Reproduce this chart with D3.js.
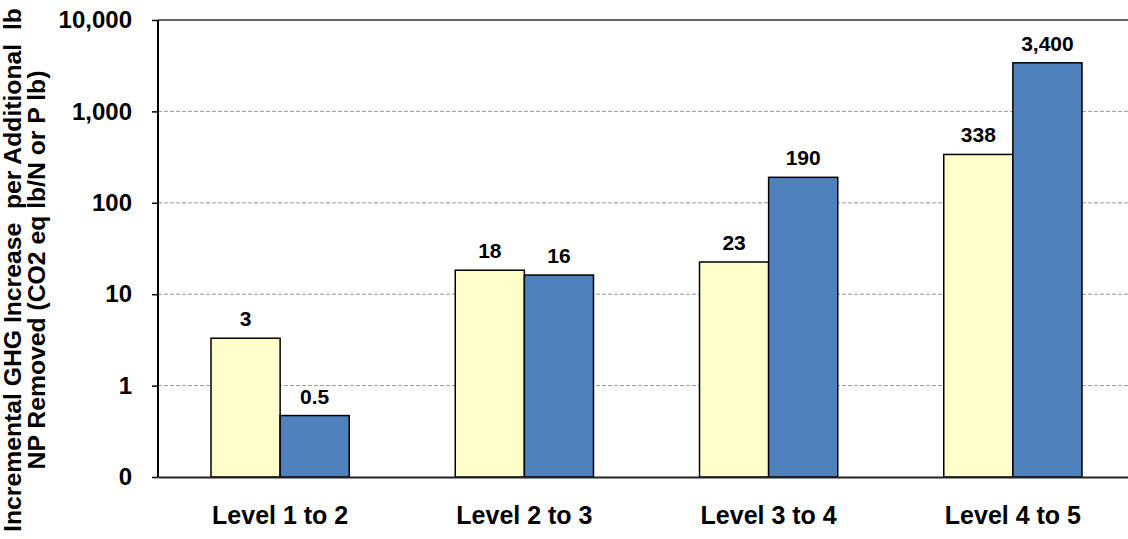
<!DOCTYPE html>
<html lang="en">
<head>
  <meta charset="UTF-8">
  <title>Incremental GHG Increase per Additional lb NP Removed</title>
  <script src="https://d3js.org/d3.v7.min.js"></script>
<style>
  body, html {
    margin: 0;
    padding: 0;
    background: #ffffff;
    overflow: hidden;
  }
  svg {
    display: block;
    font-family: Arial, 'Liberation Sans', Helvetica, sans-serif;
    font-weight: bold;
  }
  .bar {
    stroke: #000;
    stroke-width: 1.5;
  }
  .grid line {
    stroke: #999;
    stroke-dasharray: 4,2;
  }
</style>
</head>
<body>

<svg width="1128" height="539"></svg>

<script>
  // chart data
  const categories = ["Level 1 to 2", "Level 2 to 3", "Level 3 to 4", "Level 4 to 5"];
  const seriesNames = ["Nitrogen", "Phosphorus"];
  const nValues = [3.3, 18.3, 22.5, 338];
  const pValues = [0.47, 16.2, 190, 3400];
  const nLabels = ["3", "18", "23", "338"];
  const pLabels = ["0.5", "16", "190", "3,400"];
  const yTicks = [0.1, 1, 10, 100, 1000, 10000];
  const yTickLabels = ["0", "1", "10", "100", "1,000", "10,000"];
  const colors = ["#FFFFCC", "#4F81BD"];

  const rows = categories.map((c, i) => ({
    cat: c,
    bars: [
      {key: seriesNames[0], value: nValues[i], label: nLabels[i]},
      {key: seriesNames[1], value: pValues[i], label: pLabels[i]}
    ]
  }));

  const margin = {top: 20, left: 158},
        plotRight = 1135,
        plotBottom = 477;

  const svg = d3.select("svg");

  const x0 = d3.scaleBand()
               .domain(categories)
               .range([margin.left, plotRight])
               .paddingInner(0.434)
               .paddingOuter(0.217);

  const x1 = d3.scaleBand()
               .domain(seriesNames)
               .range([0, x0.bandwidth()]);

  const y = d3.scaleLog()
              .domain([0.1, 10000])
              .range([plotBottom, margin.top]);

  // gridlines
  svg.append("g")
     .attr("class", "grid")
     .selectAll("line")
     .data(yTicks.slice(1, -1))
     .enter().append("line")
       .attr("x1", margin.left)
       .attr("x2", plotRight)
       .attr("y1", d => y(d))
       .attr("y2", d => y(d));

  // top border line
  svg.append("line")
     .attr("x1", margin.left).attr("x2", plotRight)
     .attr("y1", y(10000)).attr("y2", y(10000))
     .attr("stroke", "#333").attr("stroke-width", 1.5);

  // bars
  const groups = svg.selectAll("g.group")
     .data(rows)
     .enter().append("g")
       .attr("class", "group")
       .attr("transform", d => `translate(${x0(d.cat)},0)`);

  groups.selectAll("rect")
     .data(d => d.bars)
     .enter().append("rect")
       .attr("class", "bar")
       .attr("x", d => x1(d.key))
       .attr("y", d => y(d.value))
       .attr("width", x1.bandwidth())
       .attr("height", d => plotBottom - y(d.value))
       .attr("fill", (d, i) => colors[i]);

  groups.selectAll("text")
     .data(d => d.bars)
     .enter().append("text")
       .attr("x", d => x1(d.key) + x1.bandwidth() / 2)
       .attr("y", d => y(d.value) - 12)
       .attr("text-anchor", "middle")
       .style("font-size", "21px")
       .text(d => d.label);

  // y axis
  const yAxis = d3.axisLeft(y)
                  .tickValues(yTicks)
                  .tickFormat((d, i) => yTickLabels[i])
                  .tickSize(6)
                  .tickPadding(20);

  const yg = svg.append("g")
     .attr("transform", `translate(${margin.left},0)`)
     .call(yAxis);
  yg.select(".domain").attr("stroke", "#000").attr("stroke-width", 2).attr("d", `M0,${margin.top}V${plotBottom}`);
  yg.selectAll(".tick line").attr("stroke", "#000").attr("stroke-width", 1.5);
  yg.selectAll(".tick text")
    .style("font-size", "24px")
    .style("font-family", "Arial, 'Liberation Sans', sans-serif")
    .style("font-weight", "bold")
    .attr("fill", "#000");

  // x axis
  const xAxis = d3.axisBottom(x0).tickSize(0).tickPadding(29);
  const xg = svg.append("g")
     .attr("transform", `translate(0,${plotBottom})`)
     .call(xAxis);
  xg.select(".domain").attr("stroke", "#222").attr("stroke-width", 2);
  xg.selectAll(".tick text")
    .style("font-size", "25px")
    .style("font-family", "Arial, 'Liberation Sans', sans-serif")
    .style("font-weight", "bold")
    .attr("fill", "#000");

  // y axis title
  const titleLines = ["Incremental GHG Increase  per Additional  lb", "NP Removed (CO2 eq lb/N or P lb)"];
  svg.append("g")
     .selectAll("text")
     .data(titleLines)
     .enter().append("text")
       .attr("transform", (d, i) => `translate(${21 + i * 24},270) rotate(-90) scale(1.03,1)`)
       .attr("text-anchor", "middle")
       .style("font-size", "24px")
       .style("white-space", "pre")
       .text(d => d);
</script>

</body>
</html>
